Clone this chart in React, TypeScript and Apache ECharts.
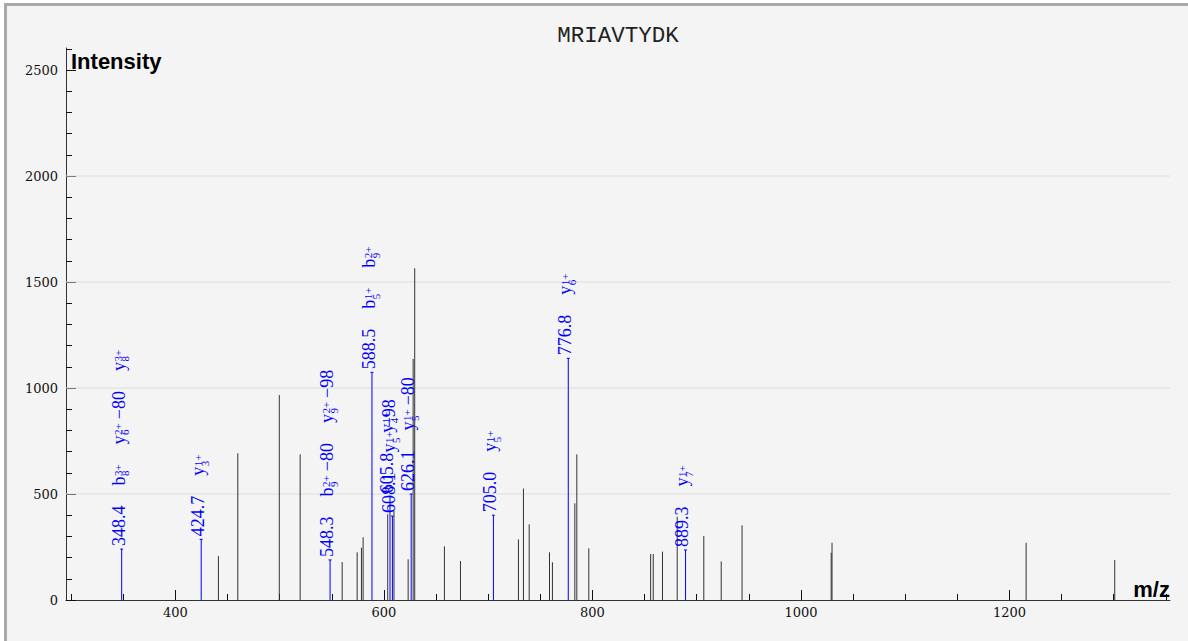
import React, { useEffect, useRef } from "react";
import * as echarts from "echarts";

// ---------- data ----------
const TITLE = "MRIAVTYDK";
const X_NAME = "m/z";
const Y_NAME = "Intensity";

const X_MIN = 295;
const X_MAX = 1354;
const Y_MIN = 0;
const Y_MAX = 2604;

const X_MAJOR_TICKS = [400, 600, 800, 1000, 1200];
const X_MINOR_TICKS = [300, 350, 400, 450, 500, 550, 600, 650, 700, 750, 800, 850, 900, 950, 1000, 1050, 1100, 1150, 1200, 1250, 1300, 1350];
const Y_MAJOR_TICKS = [0, 500, 1000, 1500, 2000, 2500];
const Y_MINOR_TICKS = [0, 100, 200, 300, 400, 500, 600, 700, 800, 900, 1000, 1100, 1200, 1300, 1400, 1500, 1600, 1700, 1800, 1900, 2000, 2100, 2200, 2300, 2400, 2500, 2600];
const GRID_VALUES = [500, 1000, 1500, 2000];

// unannotated peaks
const peakMz = [441.2, 459.8, 499.6, 519.6, 559.9, 574.3, 578.4, 580.0, 603.6, 609.6, 623.2, 628.0, 629.5, 658.0, 673.4, 729.0, 733.8, 739.3, 758.8, 761.6, 783.1, 785.0, 796.5, 855.8, 858.3, 867.2, 881.3, 906.8, 923.5, 943.5, 1029.0, 1029.8, 1216.0, 1301.0];
const peakIntensity = [207, 692, 967, 687, 179, 225, 247, 296, 405, 420, 192, 1137, 1565, 253, 184, 286, 526, 357, 225, 178, 456, 687, 244, 217, 217, 228, 393, 302, 182, 352, 223, 270, 270, 189];

// annotated (matched) peaks
const ionMz = [348.4, 424.7, 548.3, 588.5, 605.8, 608.1, 626.1, 705.0, 776.8, 889.3];
const ionIntensity = [240, 286, 189, 1074, 490, 396, 500, 400, 1140, 236];
// [ion, subscript, superscript, neutral loss]
const ionAnnotations: string[][][] = [
  [["b", "8", "3+", ""], ["y", "6", "2+", "\u221280"], ["y", "8", "3+", ""]],
  [["y", "3", "1+", ""]],
  [["b", "9", "2+", "\u221280"], ["y", "9", "2+", "\u221298"]],
  [["b", "5", "1+", ""], ["b", "9", "2+", ""]],
  [["y", "4", "1+", ""]],
  [["y", "5", "1+", "\u221298"]],
  [["y", "5", "1+", "\u221280"]],
  [["y", "5", "1+", ""]],
  [["y", "6", "1+", ""]],
  [["y", "7", "1+", ""]],
];

// ---------- styles ----------
const BLUE = "#0000ff";
const PEAK_COLOR = "#333333";
const SERIF = '"Liberation Serif", "Times New Roman", serif';
const AXIS_FONT = '"DejaVu Serif", serif';
const MAIN_SIZE = 18;
const SCRIPT_SIZE = 11;
const LABEL_GAP = 20;
const BASE_DY = -3.1;
const SUP_DY = -3.7;
const SUB_DY = 3.8;

let measureCtx: CanvasRenderingContext2D | null = null;
function measure(text: string, size: number): number {
  if (!measureCtx) {
    const c = document.createElement("canvas");
    measureCtx = c.getContext("2d");
  }
  if (!measureCtx) return text.length * size * 0.5;
  measureCtx.font = `${size}px "Liberation Serif"`;
  return measureCtx.measureText(text).width;
}

function txt(text: string, x: number, y: number, size: number) {
  return {
    type: "text",
    x,
    y,
    silent: true,
    style: {
      text,
      fill: BLUE,
      fontSize: size,
      fontFamily: SERIF,
      textAlign: "left",
      textVerticalAlign: "middle",
      align: "left",
      verticalAlign: "middle",
    },
  };
}

function buildLabels(i: number) {
  const children: any[] = [];
  let cur = 0;
  const mzText = ionMz[i].toFixed(1);
  children.push(txt(mzText, cur, BASE_DY, MAIN_SIZE));
  cur += measure(mzText, MAIN_SIZE) + LABEL_GAP;
  for (const [ion, sub, sup, loss] of ionAnnotations[i]) {
    children.push(txt(ion, cur, BASE_DY, MAIN_SIZE));
    cur += measure(ion, MAIN_SIZE) + 0.5;
    children.push(txt(sup, cur, SUP_DY, SCRIPT_SIZE));
    children.push(txt(sub, cur, SUB_DY, SCRIPT_SIZE));
    cur += Math.max(measure(sup, SCRIPT_SIZE), measure(sub, SCRIPT_SIZE));
    if (loss) {
      cur += 4;
      children.push(txt(loss, cur, BASE_DY, MAIN_SIZE));
      cur += measure(loss, MAIN_SIZE);
    }
    cur += LABEL_GAP;
  }
  return children;
}

const plainNumber = (v: number) => String(v);

export default function App() {
  const ref = useRef<HTMLDivElement>(null);

  useEffect(() => {
    if (!ref.current) return;
    const chart = echarts.init(ref.current, null, { renderer: "svg" });

    const axisLine = { show: true, lineStyle: { color: "#333", width: 1 } };

    const option: any = {
      animation: false,
      backgroundColor: "transparent",
      grid: { left: 66, right: 18, top: 48, bottom: 41, containLabel: false, outerBoundsMode: "none" },
      xAxis: [
        {
          type: "value",
          position: "bottom",
          min: X_MIN,
          max: X_MAX,
          axisLine,
          axisTick: { show: true, inside: true, length: 10, customValues: X_MAJOR_TICKS, lineStyle: { color: "#111" } },
          axisLabel: { show: true, customValues: X_MAJOR_TICKS, formatter: plainNumber, margin: 6, color: "#111", fontFamily: AXIS_FONT, fontSize: 13 },
          splitLine: { show: false },
        },
        {
          type: "value",
          position: "bottom",
          min: X_MIN,
          max: X_MAX,
          axisLine: { show: false },
          axisTick: { show: true, inside: true, length: 6, customValues: X_MINOR_TICKS, lineStyle: { color: "#111" } },
          axisLabel: { show: false },
          splitLine: { show: false },
        },
      ],
      yAxis: [
        {
          type: "value",
          position: "left",
          min: Y_MIN,
          max: Y_MAX,
          axisLine,
          axisTick: { show: true, inside: true, length: 10, customValues: Y_MAJOR_TICKS, lineStyle: { color: "#111" } },
          axisLabel: { show: true, customValues: Y_MAJOR_TICKS, formatter: plainNumber, margin: 8, color: "#111", fontFamily: AXIS_FONT, fontSize: 13 },
          splitLine: { show: false },
        },
        {
          type: "value",
          position: "left",
          min: Y_MIN,
          max: Y_MAX,
          axisLine: { show: false },
          axisTick: { show: true, inside: true, length: 6, customValues: Y_MINOR_TICKS, lineStyle: { color: "#111" } },
          axisLabel: { show: false },
          splitLine: { show: false },
        },
      ],
      graphic: [
        {
          type: "text",
          x: 618,
          y: 35.5,
          silent: true,
          style: {
            text: TITLE,
            fill: "#222",
            font: '22.5px "Liberation Mono", monospace',
            textAlign: "center",
            textVerticalAlign: "middle",
          },
        },
        {
          type: "text",
          x: 71,
          y: 61.4,
          silent: true,
          style: {
            text: Y_NAME,
            fill: "#000",
            font: 'bold 22px "Liberation Sans", Arial, sans-serif',
            textAlign: "left",
            textVerticalAlign: "middle",
          },
        },
        {
          type: "text",
          x: 1170,
          y: 589.4,
          silent: true,
          style: {
            text: X_NAME,
            fill: "#000",
            font: 'bold 22px "Liberation Sans", Arial, sans-serif',
            textAlign: "right",
            textVerticalAlign: "middle",
          },
        },
      ],
      series: [
        {
          type: "custom",
          name: "grid",
          xAxisIndex: 0,
          yAxisIndex: 0,
          z: 1,
          silent: true,
          data: GRID_VALUES.map((v) => [X_MIN, v]),
          renderItem: (params: any, api: any) => {
            const v = api.value(1);
            const a = api.coord([X_MIN, v]);
            const b = api.coord([X_MAX, v]);
            return {
              type: "line",
              shape: { x1: a[0], y1: a[1], x2: b[0], y2: b[1] },
              style: { stroke: "#dcdcdc", lineWidth: 1 },
            };
          },
        },
        {
          type: "custom",
          name: "peaks",
          xAxisIndex: 0,
          yAxisIndex: 0,
          z: 2,
          silent: true,
          data: peakMz.map((m, i) => [m, peakIntensity[i]]),
          renderItem: (params: any, api: any) => {
            const m = api.value(0);
            const base = api.coord([m, 0]);
            const top = api.coord([m, api.value(1)]);
            return {
              type: "line",
              shape: { x1: base[0], y1: base[1], x2: top[0], y2: top[1] },
              style: { stroke: PEAK_COLOR, lineWidth: 1 },
            };
          },
        },
        {
          type: "custom",
          name: "ions",
          xAxisIndex: 0,
          yAxisIndex: 0,
          z: 3,
          silent: true,
          data: ionMz.map((m, i) => [m, ionIntensity[i]]),
          renderItem: (params: any, api: any) => {
            const i = params.dataIndex;
            const m = api.value(0);
            const base = api.coord([m, 0]);
            const top = api.coord([m, api.value(1)]);
            const x = base[0];
            return {
              type: "group",
              children: [
                {
                  type: "line",
                  shape: { x1: x, y1: base[1], x2: x, y2: top[1] },
                  style: { stroke: BLUE, lineWidth: 1 },
                },
                {
                  type: "line",
                  shape: { x1: x - 1.5, y1: top[1], x2: x + 1.5, y2: top[1] },
                  style: { stroke: BLUE, lineWidth: 1 },
                },
                {
                  type: "group",
                  x: x,
                  y: top[1] - 3,
                  rotation: Math.PI / 2,
                  children: buildLabels(i),
                },
              ],
            };
          },
        },
      ],
    };

    chart.setOption(option);
    return () => chart.dispose();
  }, []);

  return (
    <div style={{ position: "absolute", left: 0, top: 0, width: 1188, height: 641, overflow: "hidden", background: "#fff" }}>
      <div
        style={{
          position: "absolute",
          left: 4,
          top: 3,
          width: 1184,
          height: 638,
          boxSizing: "border-box",
          borderTop: "3px solid #a9a9a9",
          borderLeft: "3px solid #a9a9a9",
          background: "#f4f4f4",
        }}
      />
      <div ref={ref} style={{ position: "absolute", left: 0, top: 0, width: 1188, height: 641 }} />
    </div>
  );
}
